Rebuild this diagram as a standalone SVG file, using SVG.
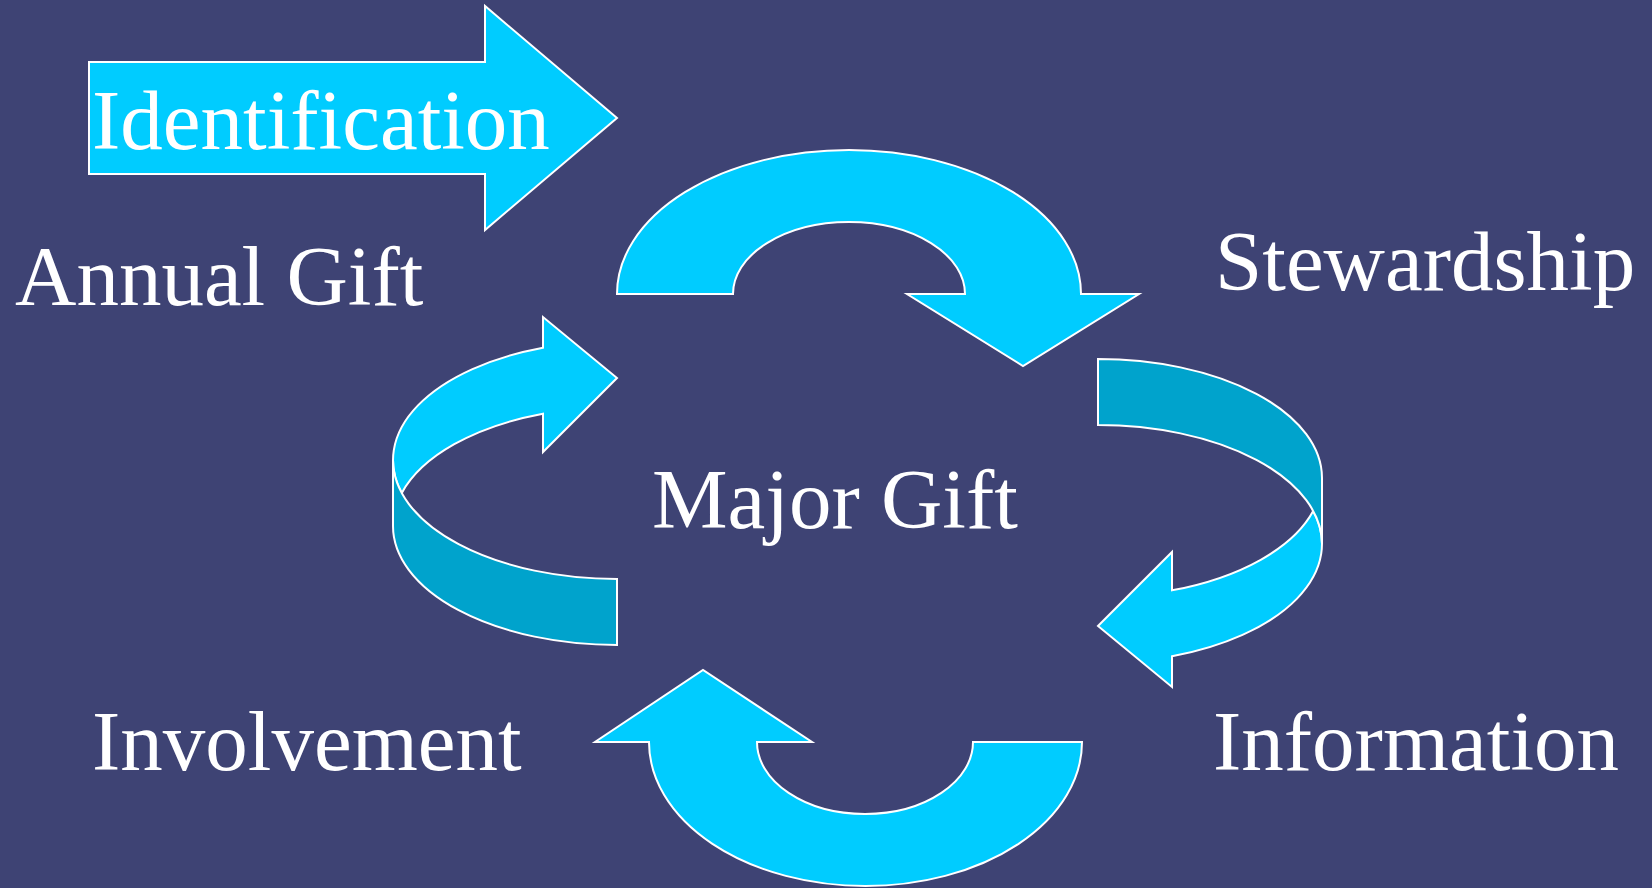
<svg xmlns="http://www.w3.org/2000/svg" width="1652" height="888" viewBox="0 0 1652 888">
<style>
.bg{fill:#3E4374}
.lt{fill:#00CCFF;stroke:#FFFFFF;stroke-width:2;stroke-linejoin:miter}
.dk{fill:#00A3CC;stroke:#FFFFFF;stroke-width:2;stroke-linejoin:miter}
.lbl{font-family:"Liberation Serif","Times New Roman",serif;font-size:85px;fill:#FFFFFF}
</style>
<rect class="bg" x="0" y="0" width="1652" height="888"/>
<g id="connectors">
  <g id="arrow-identification">
    <polygon class="lt" points="89,62 485,62 485,6 617,118 485,230 485,174 89,174"/>
  </g>
  <g id="arrow-top">
    <path class="lt" d="M617,294 A232,144 0 0 1 1081,294 L1139,294 L1023,366 L907,294 L965,294 A116,72 0 0 0 733,294 Z"/>
  </g>
  <g id="arrow-left">
    <path class="lt" d="M543,347.7 A224,119 0 0 0 401.8,493 A224,119 0 0 1 543,413.7 L543,452 L617,378 L543,317 Z"/>
    <path class="dk" d="M617,579 A224,119 0 0 1 393,460 L393,526 A224,119 0 0 0 617,645 Z"/>
  </g>
  <g id="arrow-right" transform="rotate(180 857.5 502)">
    <path class="lt" d="M543,347.7 A224,119 0 0 0 401.8,493 A224,119 0 0 1 543,413.7 L543,452 L617,378 L543,317 Z"/>
    <path class="dk" d="M617,579 A224,119 0 0 1 393,460 L393,526 A224,119 0 0 0 617,645 Z"/>
  </g>
  <g id="arrow-bottom">
    <path class="lt" d="M649,742 A216.5,144 0 0 0 1082,742 L973,742 A108,72 0 0 1 757,742 L812,742 L703,670 L595,742 Z"/>
  </g>
</g>
<g id="node-identification"><text class="lbl" x="92" y="149">Identification</text></g>
<g id="node-annual-gift"><text class="lbl" x="15" y="305">Annual Gift</text></g>
<g id="node-stewardship"><text class="lbl" x="1215" y="290">Stewardship</text></g>
<g id="node-major-gift"><text class="lbl" x="652" y="528">Major Gift</text></g>
<g id="node-involvement"><text class="lbl" x="92" y="770">Involvement</text></g>
<g id="node-information"><text class="lbl" x="1213" y="770">Information</text></g>
</svg>
